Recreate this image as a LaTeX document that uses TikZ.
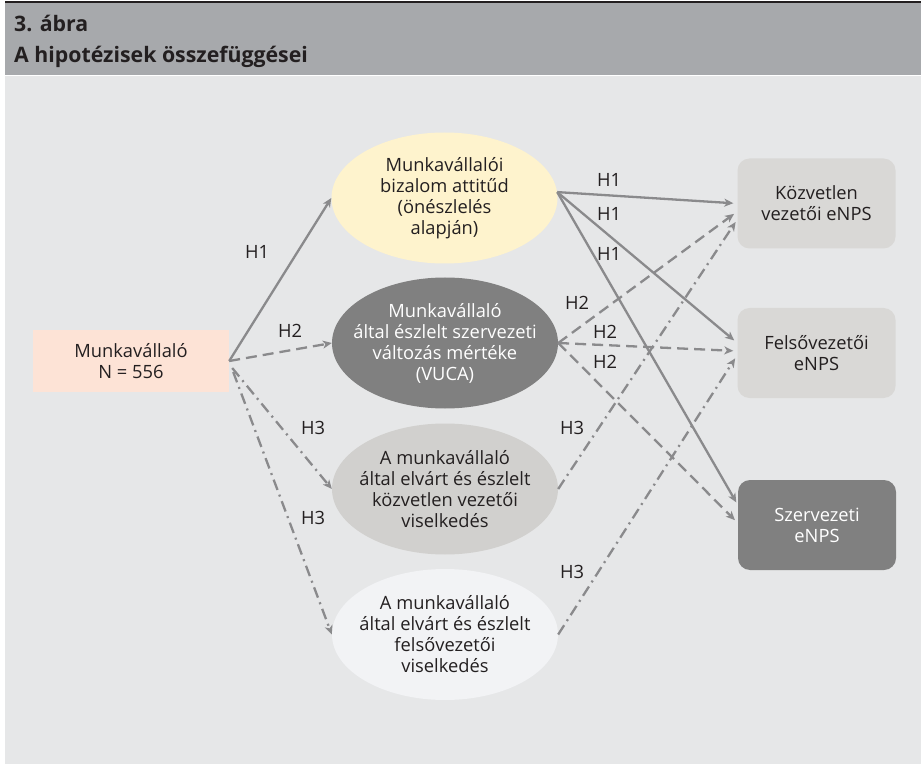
\documentclass[tikz,border=0pt]{standalone}
\usepackage{fontspec}
\setmainfont{Open Sans}
\usetikzlibrary{shapes.geometric,arrows.meta}

\definecolor{inkc}{RGB}{35,31,32}
\definecolor{headc}{RGB}{167,169,172}
\definecolor{bodyc}{RGB}{230,231,232}
\definecolor{linec}{RGB}{138,138,140}
\definecolor{peachc}{RGB}{253,227,214}
\definecolor{yellowc}{RGB}{254,243,205}
\definecolor{darkc}{RGB}{128,128,128}
\definecolor{midc}{RGB}{209,208,206}
\definecolor{palec}{RGB}{242,243,245}
\definecolor{boxc}{RGB}{217,216,214}

\tikzset{
  txt/.style={font=\fontsize{18.3}{21}\selectfont, text=inkc, align=center},
  % negative x padding keeps every ellipse at its fixed minimum size
  ell/.style={txt, ellipse, minimum width=226pt, minimum height=131pt, inner xsep=-30pt, inner ysep=0pt},
  outbox/.style={txt, rounded corners=12pt, minimum width=158pt, minimum height=90pt, inner sep=0pt},
  lbl/.style={font=\fontsize{18.3}{21}\selectfont, text=inkc, inner sep=0pt},
  conn/.style={draw=linec, line width=2.3pt, -{Stealth[length=9pt,width=8pt,inset=2.5pt]}},
  solidline/.style={conn},
  dashline/.style={conn, dash pattern=on 11pt off 6pt},
  dotdashline/.style={conn, dash pattern=on 11pt off 5pt on 2pt off 5pt},
  titletext/.style={font=\bfseries\fontsize{21.3}{24}\selectfont, text=inkc, anchor=base west, inner sep=0pt}
}

\begin{document}
\begin{tikzpicture}[x=1pt,y=-1pt]
\useasboundingbox (0,0) rectangle (921,767);
\fill[white] (0,0) rectangle (921,767);

% header band and panel
\fill[inkc] (5,1.5) rectangle (921,3.5);
\fill[headc] (5,3.5) rectangle (921,75);
\fill[bodyc] (5,76) rectangle (921,764);

\node[titletext] (title1) at (14,32) {3. ábra};
\node[titletext] (title2) at (14,63) {A hipotézisek összefüggései};

% source
\node[txt, fill=peachc, minimum width=196pt, minimum height=62pt, inner sep=0pt] (emp) at (131,361) {Munkavállaló\\N = 556};

% mediating constructs
\node[ell, fill=yellowc] (trust) at (444.5,198) {Munkavállalói\\bizalom attitűd\\(önészlelés\\alapján)};
\node[ell, fill=darkc, text=white] (vuca) at (445,343) {Munkavállaló\\által észlelt szervezeti\\változás mértéke\\(VUCA)};
\node[ell, fill=midc] (direct) at (445,489) {A munkavállaló\\által elvárt és észlelt\\közvetlen vezetői\\viselkedés};
\node[ell, fill=palec] (upper) at (445,634.5) {A munkavállaló\\által elvárt és észlelt\\felsővezetői\\viselkedés};

% outcomes
\node[outbox, fill=boxc] (kozv) at (816.5,203.5) {Közvetlen\\vezetői eNPS};
\node[outbox, fill=boxc] (felso) at (816.5,353) {Felsővezetői\\eNPS};
\node[outbox, fill=darkc, text=white] (szerv) at (817,525) {Szervezeti\\eNPS};

% first stage
\draw[solidline] (emp.east) -- (trust.west);
\draw[dashline] (emp.east) -- (vuca.west);
\draw[dotdashline] ([xshift=3pt,yshift=-7pt]emp.east) -- (direct.west);
\draw[dotdashline] ([xshift=4pt,yshift=-11pt]emp.east) -- (upper.west);

% second stage
\draw[solidline, shorten >=4pt] (trust.3) -- ([yshift=0pt]kozv.west);
\draw[solidline, shorten >=4pt] (trust.3) -- ([yshift=10pt]felso.west);
\draw[solidline, shorten >=3pt] (trust.3) -- ([yshift=20pt]szerv.west);
\draw[dashline, shorten >=4pt] (vuca.east) -- ([yshift=-8pt]kozv.west);
\draw[dashline, shorten >=4pt] (vuca.east) -- ([yshift=2pt]felso.west);
\draw[dashline, shorten >=4pt] (vuca.east) -- ([yshift=2pt]szerv.west);
\draw[dotdashline, shorten >=3pt] (direct.east) -- ([yshift=-16pt]kozv.west);
\draw[dotdashline, shorten >=4pt] (upper.east) -- ([yshift=-2pt]felso.west);

% hypothesis labels
\node[lbl] (l1) at (257,252) {H1};
\node[lbl] (l2) at (290,331) {H2};
\node[lbl] (l3) at (313,428) {H3};
\node[lbl] (l4) at (313,518) {H3};
\node[lbl] (l5) at (609,180) {H1};
\node[lbl] (l6) at (609,214) {H1};
\node[lbl] (l7) at (609,254) {H1};
\node[lbl] (l8) at (577,303) {H2};
\node[lbl] (l9) at (605,332) {H2};
\node[lbl] (l10) at (605,362) {H2};
\node[lbl] (l11) at (572,428) {H3};
\node[lbl] (l12) at (572,572) {H3};
\end{tikzpicture}
\end{document}
